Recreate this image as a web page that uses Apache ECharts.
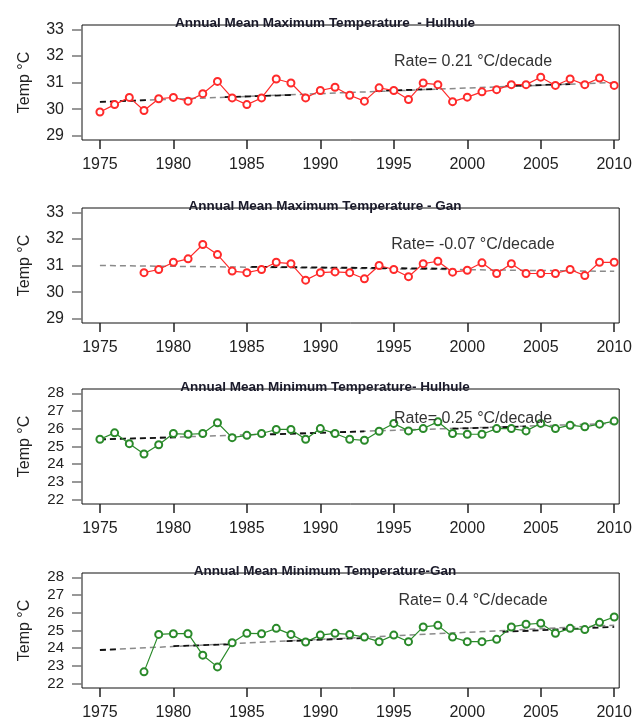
<!DOCTYPE html>
<html>
<head>
<meta charset="utf-8">
<script src="https://cdn.jsdelivr.net/npm/echarts@6/dist/echarts.min.js"></script>
<style>html,body{margin:0;padding:0;background:#fff}#c{width:635px;height:724px}</style>
</head>
<body>
<div id="c"></div>
<script>
// ---- data ----
const yearsHul = [1975,1976,1977,1978,1979,1980,1981,1982,1983,1984,1985,1986,1987,1988,1989,1990,1991,1992,1993,1994,1995,1996,1997,1998,1999,2000,2001,2002,2003,2004,2005,2006,2007,2008,2009,2010];
const yearsGan = [1978,1979,1980,1981,1982,1983,1984,1985,1986,1987,1988,1989,1990,1991,1992,1993,1994,1995,1996,1997,1998,1999,2000,2001,2002,2003,2004,2005,2006,2007,2008,2009,2010];
const tmaxHulhule = [29.89,30.17,30.44,29.95,30.39,30.44,30.30,30.58,31.04,30.42,30.17,30.42,31.13,30.98,30.42,30.70,30.82,30.52,30.30,30.80,30.70,30.36,30.98,30.92,30.28,30.45,30.65,30.73,30.92,30.92,31.20,30.89,31.13,30.92,31.17,30.89];
const tmaxGan = [30.73,30.85,31.12,31.25,31.79,31.41,30.79,30.73,30.85,31.12,31.07,30.45,30.73,30.76,30.73,30.50,31.00,30.85,30.58,31.07,31.16,30.75,30.82,31.10,30.70,31.07,30.70,30.70,30.70,30.85,30.62,31.12,31.12];
const tminHulhule = [25.41,25.77,25.16,24.58,25.10,25.73,25.69,25.73,26.34,25.50,25.63,25.73,25.96,25.96,25.41,26.01,25.73,25.41,25.35,25.86,26.30,25.88,26.01,26.39,25.73,25.69,25.69,26.01,26.01,25.88,26.30,26.01,26.20,26.11,26.26,26.43];
const tminGan = [22.67,24.78,24.82,24.82,23.61,22.95,24.31,24.84,24.82,25.12,24.78,24.35,24.74,24.84,24.78,24.63,24.37,24.74,24.37,25.20,25.29,24.63,24.37,24.37,24.50,25.20,25.35,25.41,24.84,25.12,25.05,25.46,25.76];

// trend lines (grey dashed, endpoints) and black dashed pieces
const trendTmaxHul = [[1975,30.27],[2010,31.00]];
const trendTmaxGan = [[1975,31.00],[2010,30.78]];
const trendTminHul = [[1975,25.40],[2010,26.30]];
const trendTminGan = [[1975,23.90],[2010,25.30]];
const blackTmaxHul = [[1975,30.27],[1978.3,30.34],null,[1983.5,30.45],[1988,30.53],null,[1993.8,30.68],[1998,30.76],null,[2002.6,30.86],[2007,30.94]];
const blackTmaxGan = [[1985.3,30.95],[1998.8,30.88]];
const blackTminHul = [[1975,25.40],[1980.3,25.52],null,[1985.9,25.66],[1993,25.85],null,[1999,26.00],[2004,26.13]];
const blackTminGan = [[1975,23.90],[1976.3,23.95],null,[1980,24.12],[1983.8,24.22],null,[1987.7,24.40],[1993,24.58],null,[2002.4,24.92],[2010,25.20]];

const titles = ["Annual Mean Maximum Temperature  - Hulhule","Annual Mean Maximum Temperature - Gan","Annual Mean Minimum Temperature- Hulhule","Annual Mean Minimum Temperature-Gan"];
const rates = ["Rate= 0.21 °C/decade","Rate= -0.07 °C/decade","Rate= 0.25 °C/decade","Rate= 0.4 °C/decade"];
const xTicks = [1975,1980,1985,1990,1995,2000,2005,2010];
const yTicksMax = [29,30,31,32,33];
const yTicksMin = [22,23,24,25,26,27,28];
const yAxisName = "Temp °C";

// ---- chart ----
const FONT = "Liberation Sans, Arial, sans-serif";
const gridTops = [25,208,389,573];
const gridH = 115;
const rateY = [58,241,415,597];
const panels = [
  {years: yearsHul, vals: tmaxHulhule, trend: trendTmaxHul, black: blackTmaxHul, color:'#ff2a2a', ticks: yTicksMax, min:28.84, max:33.16, fs:16},
  {years: yearsGan, vals: tmaxGan, trend: trendTmaxGan, black: blackTmaxGan, color:'#ff2a2a', ticks: yTicksMax, min:28.84, max:33.16, fs:16},
  {years: yearsHul, vals: tminHulhule, trend: trendTminHul, black: blackTminHul, color:'#2a8a2a', ticks: yTicksMin, min:21.76, max:28.24, fs:15},
  {years: yearsGan, vals: tminGan, trend: trendTminGan, black: blackTminGan, color:'#2a8a2a', ticks: yTicksMin, min:21.76, max:28.24, fs:15}
];

const grid=[], xAxis=[], yAxis=[], series=[], title=[];
panels.forEach((p,i)=>{
  grid.push({left:82, top:gridTops[i], width:538, height:gridH, show:true, borderColor:'#111', borderWidth:1, backgroundColor:'transparent'});
  xAxis.push({type:'value', gridIndex:i, min:1973.78, max:2010.34,
    axisLine:{show:false}, splitLine:{show:false},
    axisTick:{show:true, length:9, customValues:xTicks, lineStyle:{color:'#222', width:1.5}},
    axisLabel:{customValues:xTicks, margin:17, fontFamily:FONT, fontSize:16, color:'#222', formatter: v=>String(v)}});
  yAxis.push({type:'value', gridIndex:i, min:p.min, max:p.max,
    name:yAxisName, nameLocation:'middle', nameGap:49, nameRotate:90,
    nameTextStyle:{fontFamily:FONT, fontSize:16, color:'#222'},
    axisLine:{show:false}, splitLine:{show:false},
    axisTick:{show:true, length:10, customValues:p.ticks, lineStyle:{color:'#777', width:1.5}},
    axisLabel:{customValues:p.ticks, margin:18, fontFamily:FONT, fontSize:p.fs, color:'#222', formatter: v=>String(v)}});
  series.push({type:'line', xAxisIndex:i, yAxisIndex:i, data:p.trend, symbol:'none',
    lineStyle:{color:'#8a8a8a', width:1.5, type:[6,4]}, z:2, silent:true});
  series.push({type:'line', xAxisIndex:i, yAxisIndex:i, data:p.black, symbol:'none', connectNulls:false,
    lineStyle:{color:'#111', width:1.8, type:[6,4]}, z:3, silent:true});
  series.push({type:'line', xAxisIndex:i, yAxisIndex:i, data:p.years.map((y,k)=>[y,p.vals[k]]),
    symbol:'emptyCircle', symbolSize:7, showAllSymbol:true,
    lineStyle:{color:p.color, width:1.2}, itemStyle:{color:p.color, borderWidth:1.2}, z:4});
  title.push({text:titles[i], left:320, top:gridTops[i]-14, textAlign:'center',
    textStyle:{fontFamily:FONT, fontSize:13.5, fontWeight:'bold', color:'#1a1a2a'}});
  title.push({text:rates[i], left:468, top:rateY[i]-9, textAlign:'center',
    textStyle:{fontFamily:FONT, fontSize:16, fontWeight:'normal', color:'#333'}});
});

const chart = echarts.init(document.getElementById('c'), null, {renderer:'canvas'});
chart.setOption({animation:false, backgroundColor:'#fff', title, grid, xAxis, yAxis, series});
</script>
</body>
</html>
